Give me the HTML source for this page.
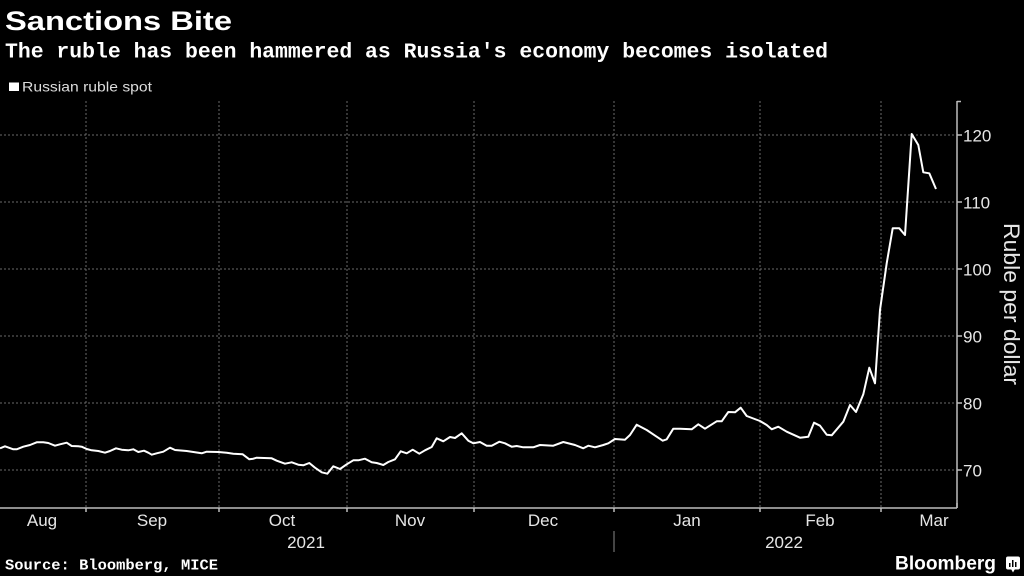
<!DOCTYPE html>
<html>
<head>
<meta charset="utf-8">
<style>
html,body{margin:0;padding:0;background:#000;}
svg{display:block;}
</style>
</head>
<body>
<svg width="1024" height="576" viewBox="0 0 1024 576" xmlns="http://www.w3.org/2000/svg">
<rect width="1024" height="576" fill="#000"/>

<!-- Titles -->
<text x="5" y="30" font-family="Liberation Sans, sans-serif" font-weight="bold" font-size="27" fill="#fff" textLength="227" lengthAdjust="spacingAndGlyphs">Sanctions Bite</text>
<text x="5" y="57.5" font-family="Liberation Mono, monospace" font-weight="bold" font-size="21.4" fill="#fff" textLength="823" lengthAdjust="spacingAndGlyphs">The ruble has been hammered as Russia's economy becomes isolated</text>

<!-- Legend -->
<rect x="9" y="82.5" width="10" height="8.5" fill="#fff"/>
<text x="22" y="91.5" font-family="Liberation Sans, sans-serif" font-size="14" fill="#ddd" textLength="130" lengthAdjust="spacingAndGlyphs">Russian ruble spot</text>

<!-- Horizontal gridlines -->
<g stroke="#6a6a6a" stroke-width="1" stroke-dasharray="2,2">
<line x1="0" y1="135" x2="956" y2="135"/>
<line x1="0" y1="202" x2="956" y2="202"/>
<line x1="0" y1="269" x2="956" y2="269"/>
<line x1="0" y1="336" x2="956" y2="336"/>
<line x1="0" y1="403" x2="956" y2="403"/>
<line x1="0" y1="470" x2="956" y2="470"/>
</g>
<!-- Vertical gridlines -->
<g stroke="#6a6a6a" stroke-width="1" stroke-dasharray="2,2">
<line x1="86" y1="101" x2="86" y2="508"/>
<line x1="219" y1="101" x2="219" y2="508"/>
<line x1="347" y1="101" x2="347" y2="508"/>
<line x1="474" y1="101" x2="474" y2="508"/>
<line x1="614" y1="101" x2="614" y2="508"/>
<line x1="760" y1="101" x2="760" y2="508"/>
<line x1="881" y1="101" x2="881" y2="508"/>
</g>

<!-- Axes -->
<g stroke="#bdbdbd" stroke-width="1.5" fill="none">
<line x1="0" y1="508" x2="957" y2="508"/>
<line x1="957" y1="101" x2="957" y2="508"/>
<line x1="957" y1="101.5" x2="961" y2="101.5"/>
<line x1="957" y1="135" x2="962" y2="135"/>
<line x1="957" y1="202" x2="962" y2="202"/>
<line x1="957" y1="269" x2="962" y2="269"/>
<line x1="957" y1="336" x2="962" y2="336"/>
<line x1="957" y1="403" x2="962" y2="403"/>
<line x1="957" y1="470" x2="962" y2="470"/>
<line x1="86" y1="508" x2="86" y2="512"/>
<line x1="219" y1="508" x2="219" y2="512"/>
<line x1="347" y1="508" x2="347" y2="512"/>
<line x1="474" y1="508" x2="474" y2="512"/>
<line x1="614" y1="508" x2="614" y2="512"/>
<line x1="760" y1="508" x2="760" y2="512"/>
<line x1="881" y1="508" x2="881" y2="512"/>
<line x1="957" y1="503" x2="957" y2="508"/>
</g>
<line x1="614" y1="531" x2="614" y2="552" stroke="#888" stroke-width="1"/>

<!-- Y labels -->
<g font-family="Liberation Sans, sans-serif" font-size="17" fill="#e6e6e6">
<text x="963" y="141.5">120</text>
<text x="963" y="208.5">110</text>
<text x="963" y="275.5">100</text>
<text x="963" y="342.5">90</text>
<text x="963" y="409.5">80</text>
<text x="963" y="476.5">70</text>
</g>
<text transform="translate(1004,223) rotate(90)" x="0" y="0" font-family="Liberation Sans, sans-serif" font-size="22" fill="#e6e6e6" textLength="162" lengthAdjust="spacingAndGlyphs">Ruble per dollar</text>

<!-- X labels -->
<g font-family="Liberation Sans, sans-serif" font-size="17" fill="#e6e6e6" text-anchor="middle">
<text x="42" y="526">Aug</text>
<text x="152" y="526">Sep</text>
<text x="282" y="526">Oct</text>
<text x="410" y="526">Nov</text>
<text x="543" y="526">Dec</text>
<text x="687" y="526">Jan</text>
<text x="820" y="526">Feb</text>
<text x="934" y="526">Mar</text>
<text x="306" y="548">2021</text>
<text x="784" y="548">2022</text>
</g>

<!-- Series -->
<polyline fill="none" stroke="#fff" stroke-width="2" stroke-linejoin="round" points="
0,448.3 5,446.3 13.3,449.3 16.7,449.3 23.3,446.7 30,445 36.7,442.3 43.3,442.3 48.3,443 55,445.7 60,444.3 66.7,442.7 71.7,446 78.3,446.3 81.7,446.7 86.7,449 91.7,450.3 98.3,451 105,452.7 110,451 116,448.3 121.7,449.7 128.3,450.3 133.3,449.3 138.3,452 144,450.7 148.3,452.7 151.7,454.7 156.7,453.3 163.3,451.7 170,447.7 175,450 186.7,451 201.7,453.3 206.7,451.7 218.3,452 226.7,452.7 233.3,453.7 242.7,454.3 249.3,459.3 253.3,458.7
256.7,457.7 271.7,458.3 276.7,460.7 285,463.7 291.7,462.3 298.3,464.7 303.3,465.3 309.3,463 315,467.7 321.7,472.3 327.3,473.7 333.3,466.3 340,469 346.7,464.3 353.3,460.3 358.3,460.3 365,458.7 371.7,462.3 376.7,463 383.3,465 388.3,462 395,459.3 400.7,451.3 406.7,453.3 412.7,449.7 419.3,453.7 425,450.3 431.7,447 436.7,438.3 443.3,441.3 450,437 455,438 461.7,433.3 468.3,440.7 473.3,443.3 480,442 486.7,445.7 491.7,445.7 499.3,441.7
505,443.3 511.7,446.7 516.7,446 523.3,447.3 533.3,447.3 540,445 553.3,445.7 563.3,442 575,445 583.3,448.3 588.3,445.7 595,447.3 603.3,445 608.3,443.3 615,439 625,439.7 630,435 636.7,424.7 646.7,430 656.7,436.7 662.7,440.7 666.7,439.3 673.3,428.7 680,428.7 691.7,429.3 698.3,424.3 705,428.7 716.7,421.3 721.7,421.3 728.3,412 735,412.3 740.7,407.7 746.7,416
760,421 766.7,425 771.7,429.3 778.3,426.7 786.7,431.7 800,437.7 808.3,436.7 814,422.7 820,425.7 826.7,434.7 831.7,435.3 843.3,421.7 850,405 856,412 863.3,394.3 869.3,367.7 875,383.3 880,310 886.7,263.3 892.7,228.3 899.3,228.3 905,235 911.7,134 918.3,145 923.3,172.3 929.3,173.3 936,189"/>

<!-- Footer -->
<text x="5" y="569.5" font-family="Liberation Mono, monospace" font-weight="bold" font-size="15" fill="#fff" textLength="213" lengthAdjust="spacingAndGlyphs">Source: Bloomberg, MICE</text>
<text x="895" y="569.5" font-family="Liberation Sans, sans-serif" font-weight="bold" font-size="19" fill="#fff" textLength="101" lengthAdjust="spacingAndGlyphs">Bloomberg</text>
<g>
<rect x="1006" y="556.5" width="14" height="13" rx="2" fill="#fff"/>
<polygon points="1011,569 1015,569 1013,572.5" fill="#fff"/>
<rect x="1009" y="563" width="1.5" height="4" fill="#000"/>
<rect x="1012" y="560" width="1.5" height="7" fill="#000"/>
<rect x="1015" y="562" width="1.5" height="5" fill="#000"/>
</g>
</svg>
</body>
</html>
